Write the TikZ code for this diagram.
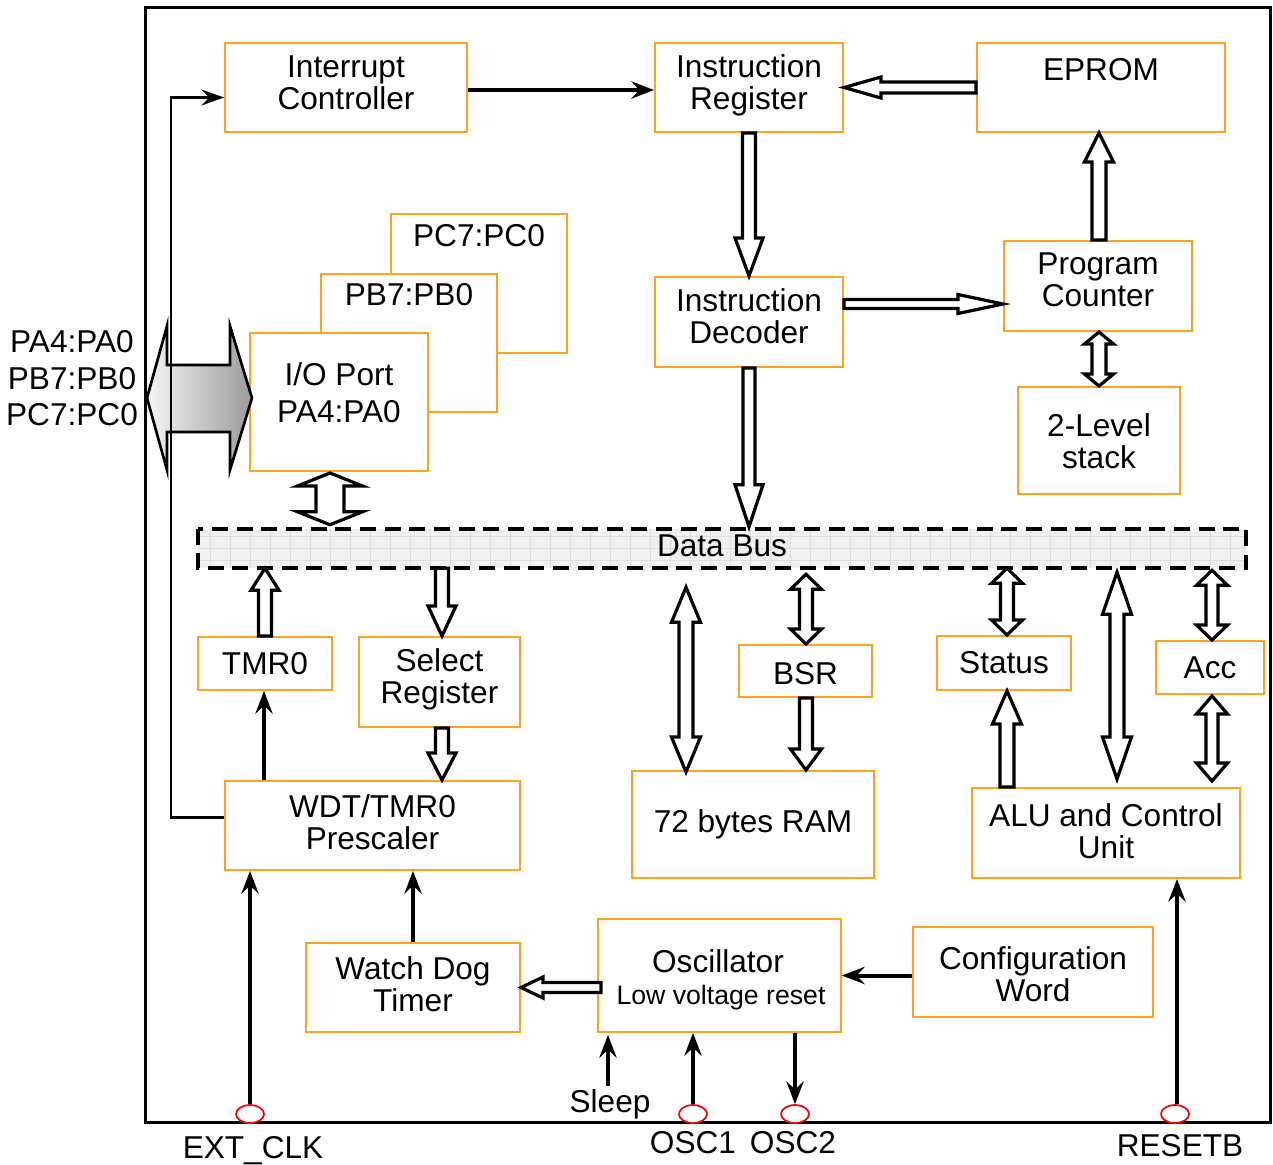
\documentclass[tikz,border=0pt]{standalone}
\usepackage{fontspec}
\setmainfont{Liberation Sans}
\usetikzlibrary{arrows.meta,calc,shapes.geometric}
\definecolor{boxor}{HTML}{FFA31A}
\definecolor{busfill}{HTML}{F0F0F0}
\definecolor{busgrid}{HTML}{DEDEDE}
\newcommand\fnt{\fontsize{23.7}{24}\selectfont}
\newcommand\fntsmall{\fontsize{20}{22}\selectfont}
% single hollow arrow: start, end, shaft px, head px, head length px
\newcommand\sarrow[5]{\draw[harr] let \p1=(#1), \p2=(#2),
  \n1={atan2(\y2-\y1,\x2-\x1)}, \n2={veclen(\x2-\x1,\y2-\y1)} in
  {[shift={(\p1)},rotate=\n1]
   (0pt,{#3*0.375pt}) -- ({\n2*1pt-#5*0.75pt},{#3*0.375pt}) -- ({\n2*1pt-#5*0.75pt},{#4*0.375pt})
   -- ({\n2*1pt},0pt) -- ({\n2*1pt-#5*0.75pt},{-#4*0.375pt}) -- ({\n2*1pt-#5*0.75pt},{-#3*0.375pt})
   -- (0pt,{-#3*0.375pt}) -- cycle};}
% double hollow arrow
\newcommand\darrow[5]{\draw[harr] let \p1=(#1), \p2=(#2),
  \n1={atan2(\y2-\y1,\x2-\x1)}, \n2={veclen(\x2-\x1,\y2-\y1)} in
  {[shift={(\p1)},rotate=\n1]
   (0pt,0pt) -- ({#5*0.75pt},{#4*0.375pt}) -- ({#5*0.75pt},{#3*0.375pt})
   -- ({\n2*1pt-#5*0.75pt},{#3*0.375pt}) -- ({\n2*1pt-#5*0.75pt},{#4*0.375pt})
   -- ({\n2*1pt},0pt) -- ({\n2*1pt-#5*0.75pt},{-#4*0.375pt}) -- ({\n2*1pt-#5*0.75pt},{-#3*0.375pt})
   -- ({#5*0.75pt},{-#3*0.375pt}) -- ({#5*0.75pt},{-#4*0.375pt}) -- cycle};}
% box: [text y offset px] name, x1, y1, x2, y2, text
\newcommand\bx[7][0]{\node[box,minimum width={(#5-#3)*0.75pt},minimum height={(#6-#4)*0.75pt}] (#2) at ({(#3+#5)/2},{(#4+#6)/2}) {};
  \node[txt] (#2-t) at ($(#2)+(0,#1)$) {#7};}
\begin{document}
\begin{tikzpicture}[x=0.75pt,y=-0.75pt,
  box/.style={draw=boxor,line width=1.5pt,fill=white,inner sep=0pt},
  txt/.style={inner sep=0pt,align=center,font=\fnt},
  harr/.style={draw=black,fill=white,line width=2.4pt,line join=miter},
  sarr/.style={line width=3pt,-{Stealth[length=17pt,width=13pt,inset=6pt]}},
  tarr/.style={line width=2pt,-{Stealth[length=17pt,width=12pt,inset=6pt]}},
  pinn/.style={ellipse,draw=red,fill=white,line width=1.3pt,minimum width=21pt,minimum height=13.5pt,inner sep=0pt},
  busborder/.style={draw=black,line width=3pt,dash pattern=on 12pt off 6.5pt},
]
\useasboundingbox (0,0) rectangle (1273,1164);
\fill[white] (0,0) rectangle (1273,1164);
% frame
\node[draw,line width=2.25pt,minimum width={1125*0.75pt},minimum height={1115*0.75pt},inner sep=0pt] (frame) at (707.5,564.5) {};

% boxes
\bx[-5]{ic}{225}{43}{467}{132}{Interrupt\\Controller}
\bx[-2]{ir}{655}{43}{843}{132}{Instruction\\Register}
\bx[-17.5]{ep}{977}{43}{1225}{132}{EPROM}
\bx{pcx}{391}{214}{567}{353}{}
\node[txt] (pcxt) at (479,236) {PC7:PC0};
\bx{pbx}{321}{274}{497}{412}{}
\node[txt] (pbxt) at (409,295) {PB7:PB0};
\bx{io}{250}{333}{428}{471}{}
\node[txt] (iot) at (339,393) {I/O Port\\[3.5pt]PA4:PA0};
\bx[-6]{id}{655}{277}{843}{367}{Instruction\\Decoder}
\bx[-6]{pc}{1004}{241}{1192}{331}{Program\\Counter}
\bx[1]{st}{1018}{387}{1180}{494}{2-Level\\stack}
\bx{tmr}{198}{637}{332}{690}{TMR0}
\bx[-3]{sel}{359}{637}{520}{727}{Select\\Register}
\bx[3]{bsr}{739}{645}{872}{697}{BSR}
\bx{sts}{937}{636}{1071}{690}{Status}
\bx{acc}{1156}{641}{1264}{694}{Acc}
\bx[-3]{pre}{225}{781}{520}{870}{WDT/TMR0\\Prescaler}
\bx{ram}{632}{771}{874}{878}{72 bytes RAM}
\bx[-2]{alu}{972}{788}{1240}{878}{ALU and Control\\Unit}
\bx[-3]{wdt}{306}{943}{520}{1032}{Watch Dog\\Timer}
\bx{osc}{598}{919}{841}{1032}{}
\node[txt] (osct) at (718,961) {Oscillator};
\node[txt,font=\fntsmall] (lvr) at (721,998) {Low voltage reset};
\bx[2]{cfg}{913}{927}{1153}{1017}{Configuration\\Word}

% data bus
\node[fill=busfill,minimum width={1048*0.75pt},minimum height={39*0.75pt},inner sep=0pt] (bus) at (722,548.5) {};
\begin{scope}
\clip (bus.north west) rectangle (bus.south east);
\foreach \gx in {210,230,...,1250} \draw[busgrid,line width=0.6pt] (\gx,529) -- (\gx,568);
\foreach \gy in {536,548,560} \draw[busgrid,line width=0.6pt] (198,\gy) -- (1246,\gy);
\end{scope}
\draw[busborder] (bus.north west) rectangle (bus.south east);
\node[txt] (bust) at (722,546) {Data Bus};

% hollow arrows
\sarrow{ep.west}{ir.east}{11}{21}{37}
\sarrow{ir.south}{id.north}{13}{28}{38}
\sarrow{$(id.east)+(0,-18)$}{$(pc.west)+(0,18)$}{9}{19}{45}
\sarrow{$(pc.north)+(1,0)$}{$(pc.north |- ep.south)+(1,0)$}{14}{29}{29}
\darrow{$(pc.south)+(1,0)$}{$(pc.south |- st.north)+(1,0)$}{14}{29}{12}
\sarrow{id.south}{$(id.south |- bus.north)+(0,-2)$}{12}{28}{42}
\darrow{$(io.south)+(-9,1)$}{$(io.south |- bus.north)+(-9,-4)$}{28}{65}{13}
\sarrow{tmr.north}{tmr.north |- bus.south}{13}{28}{22}
\sarrow{$(bus.south -| sel.north)+(2.5,0)$}{$(sel.north)+(2.5,0)$}{13}{28}{30}
\sarrow{$(sel.south)+(2.5,0)$}{$(sel.south |- pre.north)+(2.5,0)$}{13}{28}{27}
\darrow{$(bus.south -| ram.north)+(-67,19)$}{$(ram.north)+(-67,2)$}{14}{29}{35}
\darrow{$(bus.south -| bsr.north)+(0.5,6)$}{$(bsr.north)+(0.5,0)$}{13}{31}{15}
\sarrow{$(bsr.south)+(0.5,0)$}{$(bsr.south |- ram.north)+(0.5,0)$}{13}{31}{21}
\darrow{$(bus.south -| sts.north)+(3,0)$}{$(sts.north)+(3,0)$}{13}{31}{15}
\sarrow{$(alu.north -| sts.south)+(3,0)$}{$(sts.south)+(3,0)$}{14}{29}{33}
\darrow{$(bus.south -| alu.north)+(11,4)$}{$(alu.north)+(11,-8)$}{14}{29}{42}
\darrow{$(bus.south -| acc.north)+(2,2)$}{$(acc.north)+(2,0)$}{12}{31}{15}
\darrow{$(acc.south)+(2,1)$}{$(acc.south |- alu.north)+(2,-6)$}{12}{31}{18}
\sarrow{$(osc.west |- wdt.east)+(4,0)$}{wdt.east}{10}{21}{22}

% big gradient port arrow
\shade[draw=black,line width=2pt,line join=miter,left color=gray!8,right color=gray!78]
  (147,398) -- (167,326) -- (167,365) -- (230,365) -- (230,326) -- (252,398)
  -- (230,470) -- (230,432) -- (167,432) -- (167,470) -- cycle;

% labels
\node[txt] (lpa) at (72,342) {PA4:PA0};
\node[txt] (lpb) at (72,379) {PB7:PB0};
\node[txt] (lpc) at (72,415) {PC7:PC0};
\node[txt] (slp) at (610,1104) {Sleep};
\node[txt] (lclk) at (253,1151) {EXT\_CLK};
\node[txt] (lo1) at (693,1143) {OSC1};
\node[txt] (lo2) at (793,1143) {OSC2};
\node[txt] (lrst) at (1180,1146) {RESETB};

% pins
\node[pinn] (pclk) at (250,1114) {};
\node[pinn] (po1) at (693,1114) {};
\node[pinn] (po2) at (795,1114) {};
\node[pinn] (prst) at (1175,1114) {};

% solid arrows
\draw[sarr] (ic.east |- 0,90) -- (ir.west |- 0,90);
\draw[sarr] ($(tmr.south |- pre.north)+(-1,0)$) -- ($(tmr.south)+(-1,0)$);
\draw[sarr] (wdt.north) -- (wdt.north |- pre.south);
\draw[sarr] (cfg.west |- osc.east) -- (osc.east);
\draw[sarr] ($(slp.north)+(-2,-3)$) -- ($(slp.north |- osc.south)+(-2,2)$);
\draw[sarr] (po1) -- (po1 |- osc.south);
\draw[sarr] ($(po2 |- osc.south)$) -- (po2);
\draw[sarr] (pclk) -- (pclk |- pre.south);
\draw[sarr] ($(prst.north)+(2,0)$) -- ($(prst |- alu.south)+(2,0)$);
\draw[tarr] ($(pre.west)+(0,-8)$) -- ++(-53,0) |- ($(ic.west)+(0,10)$);
\end{tikzpicture}
\end{document}
